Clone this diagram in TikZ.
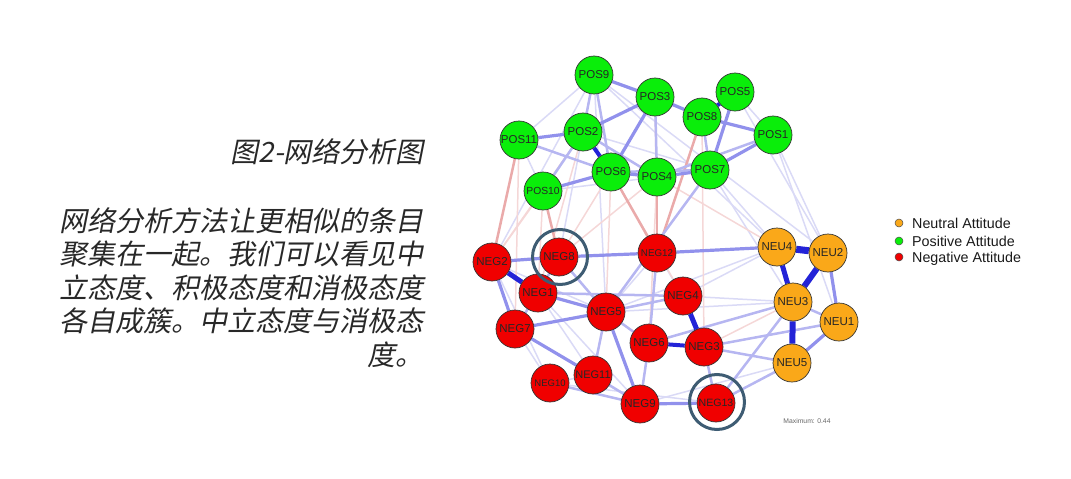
\documentclass[tikz,border=0pt]{standalone}
\usepackage{fontspec}
\setmainfont{Liberation Sans}
\newfontfamily\cjk[FakeSlant=0.2]{Noto Sans CJK SC}
\pgfdeclarelayer{bg}
\pgfsetlayers{bg,main}
\definecolor{cS}{RGB}{35,35,215}
\definecolor{cM}{RGB}{145,145,236}
\definecolor{cL}{RGB}{182,182,241}
\definecolor{cF}{RGB}{218,218,246}
\definecolor{cR}{RGB}{234,170,170}
\definecolor{cRf}{RGB}{245,215,215}
\definecolor{gfill}{RGB}{10,238,10}
\definecolor{rfill}{RGB}{240,0,0}
\definecolor{ofill}{RGB}{250,168,25}
\definecolor{ring}{RGB}{62,92,115}
\definecolor{txt}{RGB}{25,25,25}
\definecolor{cjtxt}{RGB}{40,40,40}
\tikzset{
  nd/.style={circle,draw=black!80,line width=0.7pt,minimum size=38pt,inner sep=0pt,font=\fontsize{11.5}{11}\selectfont,text=black!85},
  posn/.style={nd,fill=gfill},
  negn/.style={nd,fill=rfill},
  neun/.style={nd,fill=ofill},
  eSS/.style={draw=cS,line width=7pt},
  eS/.style={draw=cS,line width=5pt},
  eM/.style={draw=cM,line width=3.2pt},
  eL/.style={draw=cL,line width=2.5pt},
  eF/.style={draw=cF,line width=1.5pt},
  eR/.style={draw=cR,line width=2.5pt},
  eRf/.style={draw=cRf,line width=1.5pt},
  hl/.style={circle,draw=ring,line width=3pt,minimum size=55pt,inner sep=0pt},
  ldot/.style={circle,draw=black!70,line width=0.5pt,minimum size=8pt,inner sep=0pt},
  ltxt/.style={anchor=west,font=\fontsize{14.3}{15}\selectfont,text=txt,inner sep=0pt,text height=10.2pt,text depth=0pt},
  cj/.style={anchor=base east,inner sep=0pt,text=cjtxt,font=\cjk\fontsize{28}{28}\selectfont}
}
\begin{document}
\begin{tikzpicture}[x=1pt,y=-1pt]
\useasboundingbox (0,0) rectangle (1071,479);
% text
\node[cj] (t0) at (424,162) {图2-网络分析图};
\node[cj] (t1) at (424,231) {网络分析方法让更相似的条目};
\node[cj] (t2) at (424,264.5) {聚集在一起。我们可以看见中};
\node[cj] (t3) at (424,298) {立态度、积极态度和消极态度};
\node[cj] (t4) at (424,331.5) {各自成簇。中立态度与消极态};
\node[cj] (t5) at (424,365) {度。};
% nodes
\node[posn] (POS9) at (594,75) {POS9};
\node[posn] (POS3) at (655,97) {POS3};
\node[posn] (POS5) at (735,92) {POS5};
\node[posn] (POS8) at (702,117) {POS8};
\node[posn] (POS1) at (773,135) {POS1};
\node[posn,font=\fontsize{11.5}{11}\selectfont] (POS11) at (519,140) {POS11};
\node[posn] (POS2) at (583,132) {POS2};
\node[posn] (POS6) at (611,172) {POS6};
\node[posn] (POS4) at (657,177) {POS4};
\node[posn] (POS7) at (710,170) {POS7};
\node[posn,font=\fontsize{10.3}{10}\selectfont] (POS10) at (543,191) {POS10};
\node[negn] (NEG2) at (492,262) {NEG2};
\node[negn] (NEG8) at (559,257) {NEG8};
\node[negn,font=\fontsize{9.8}{10}\selectfont] (NEG12) at (657,253) {NEG12};
\node[negn] (NEG1) at (538,293) {NEG1};
\node[negn] (NEG5) at (606,312) {NEG5};
\node[negn] (NEG4) at (683,296) {NEG4};
\node[negn] (NEG7) at (515,329) {NEG7};
\node[negn] (NEG6) at (649,343) {NEG6};
\node[negn] (NEG3) at (704,347) {NEG3};
\node[negn,font=\fontsize{9.5}{10}\selectfont] (NEG10) at (550,383) {NEG10};
\node[negn,font=\fontsize{11}{10}\selectfont] (NEG11) at (593,375) {NEG11};
\node[negn] (NEG9) at (640,404) {NEG9};
\node[negn,font=\fontsize{10.6}{10}\selectfont] (NEG13) at (716,403) {NEG13};
\node[neun] (NEU4) at (777,247) {NEU4};
\node[neun] (NEU2) at (828,253) {NEU2};
\node[neun] (NEU3) at (793,302) {NEU3};
\node[neun] (NEU1) at (839,322) {NEU1};
\node[neun] (NEU5) at (792,363) {NEU5};
% highlight rings
\node[hl] (h1) at (560,257) {};
\node[hl] (h2) at (717,402) {};
% legend
\node[ldot,fill=ofill] (d1) at (899,223) {};
\node[ldot,fill=gfill] (d2) at (899,241) {};
\node[ldot,fill=rfill] (d3) at (899,257) {};
\node[ltxt] (l1) at (912,223) {Neutral Attitude};
\node[ltxt] (l2) at (912,241) {Positive Attitude};
\node[ltxt] (l3) at (912,257) {Negative Attitude};
\node[font=\fontsize{6.8}{7}\selectfont,text=black!60,inner sep=0pt] (mx) at (807,421) {Maximum: 0.44};
\begin{pgfonlayer}{bg}
% faint long edges
\draw[eF] (POS9) -- (NEU4);
\draw[eF] (POS9) -- (NEU2);
\draw[eF] (POS1) -- (NEU1);
\draw[eF] (POS1) -- (NEU2);
\draw[eF] (POS5) -- (NEU2);
\draw[eF] (POS7) -- (NEU4);
\draw[eF] (POS7) -- (NEU3);
\draw[eF] (NEG2) -- (POS9);
\draw[eF] (POS2) -- (NEG8);
\draw[eF] (POS9) -- (NEG5);
\draw[eF] (NEG10) -- (NEG13);
\draw[eF] (NEU5) -- (NEG9);
\draw[eF] (NEU3) -- (NEG5);
\draw[eF] (NEU4) -- (NEG4);
\draw[eF] (NEU3) -- (NEG4);
\draw[eF] (NEU4) -- (NEG5);
\draw[eF] (POS11) -- (POS10);
\draw[eF] (POS5) -- (POS1);
\draw[eF] (POS9) -- (POS8);
\draw[eF] (POS11) -- (POS9);
\draw[eF] (POS2) -- (POS7);
\draw[eF] (POS10) -- (POS4);
\draw[eF] (NEG10) -- (NEG11);
\draw[eF] (NEG12) -- (NEG4);
\draw[eF] (NEG7) -- (NEG10);
\draw[eF] (NEG2) -- (NEG10);
\draw[eF] (NEG1) -- (NEG11);
\draw[eF] (NEG12) -- (NEG5);
\draw[eF] (NEG1) -- (NEG9);
\draw[eF] (NEG7) -- (NEG9);
\draw[eF] (NEG2) -- (NEG5);
% red edges
\draw[eRf] (POS10) -- (NEG2);
\draw[eRf] (POS11) -- (NEG7);
\draw[eRf] (POS10) -- (NEG1);
\draw[eRf] (POS6) -- (NEG4);
\draw[eRf] (POS4) -- (NEG6);
\draw[eRf] (POS8) -- (NEG3);
\draw[eRf] (POS3) -- (NEG12);
\draw[eRf] (POS6) -- (NEG5);
\draw[eRf] (POS2) -- (NEG1);
\draw[eRf] (POS4) -- (NEU4);
\draw[eRf] (POS6) -- (NEG8);
\draw[eRf] (POS4) -- (NEG8);
\draw[eRf] (NEU3) -- (NEG3);
\draw[eRf] (POS2) -- (NEG2);
\draw[eR] (POS11) -- (NEG2);
\draw[eR] (POS6) -- (NEG12);
\draw[eR] (POS4) -- (NEG12);
\draw[eR] (POS10) -- (NEG8);
\draw[eR] (POS8) -- (NEG12);
% light blue
\draw[eL] (POS2) -- (POS4);
\draw[eL] (POS3) -- (POS4);
\draw[eL] (POS6) -- (POS7);
\draw[eL] (POS8) -- (POS7);
\draw[eL] (POS10) -- (POS2);
\draw[eL] (POS11) -- (POS6);
\draw[eL] (POS9) -- (POS2);
\draw[eL] (POS9) -- (POS6);
\draw[eL] (POS1) -- (POS4);
\draw[eL] (POS7) -- (NEG5);
\draw[eL] (NEG1) -- (NEG7);
\draw[eL] (NEG1) -- (NEG4);
\draw[eL] (NEG5) -- (NEG4);
\draw[eL] (NEG11) -- (NEG9);
\draw[eL] (NEG8) -- (NEG5);
\draw[eL] (NEG6) -- (NEG5);
\draw[eL] (NEG12) -- (NEG6);
\draw[eL] (NEG3) -- (NEG13);
\draw[eL] (NEG6) -- (NEG9);
\draw[eL] (NEG10) -- (NEG9);
\draw[eL] (NEG11) -- (NEG5);
\draw[eL] (NEG8) -- (NEG1);
\draw[eL] (NEU3) -- (NEU1);
\draw[eL] (NEU5) -- (NEG13);
\draw[eL] (NEU3) -- (NEG13);
\draw[eL] (NEU5) -- (NEG3);
\draw[eL] (NEU1) -- (NEG3);
\draw[eL] (NEU3) -- (NEG6);
% medium blue
\draw[eM] (POS9) -- (POS3);
\draw[eM] (POS3) -- (POS8);
\draw[eM] (POS8) -- (POS1);
\draw[eM] (POS2) -- (POS11);
\draw[eM] (POS2) -- (POS3);
\draw[eM] (POS3) -- (POS6);
\draw[eM] (POS6) -- (POS4);
\draw[eM] (POS4) -- (POS7);
\draw[eM] (POS7) -- (POS1);
\draw[eM] (POS5) -- (POS7);
\draw[eM] (POS10) -- (POS6);
\draw[eM] (NEG2) -- (NEG8);
\draw[eM] (NEG8) -- (NEG12);
\draw[eM] (NEG12) -- (NEU4);
\draw[eM] (NEG2) -- (NEG7);
\draw[eM] (NEG1) -- (NEG5);
\draw[eM] (NEG7) -- (NEG5);
\draw[eM] (NEG7) -- (NEG11);
\draw[eM] (NEG5) -- (NEG9);
\draw[eM] (NEG9) -- (NEG13);
\draw[eM] (NEU5) -- (NEU1);
\draw[eM] (NEU2) -- (NEU1);
% strong blue
\draw[eS,line width=4pt] (POS8) -- (POS5);
\draw[eS,line width=4pt] (POS2) -- (POS6);
\draw[eS] (NEG2) -- (NEG1);
\draw[eS,line width=4pt] (NEG6) -- (NEG3);
\draw[eS] (NEG4) -- (NEG3);
\draw[eSS] (NEU4) -- (NEU2);
\draw[eS,line width=6pt] (NEU2) -- (NEU3);
\draw[eS] (NEU4) -- (NEU3);
\draw[eS,line width=6pt] (NEU3) -- (NEU5);
\end{pgfonlayer}
\end{tikzpicture}
\end{document}
